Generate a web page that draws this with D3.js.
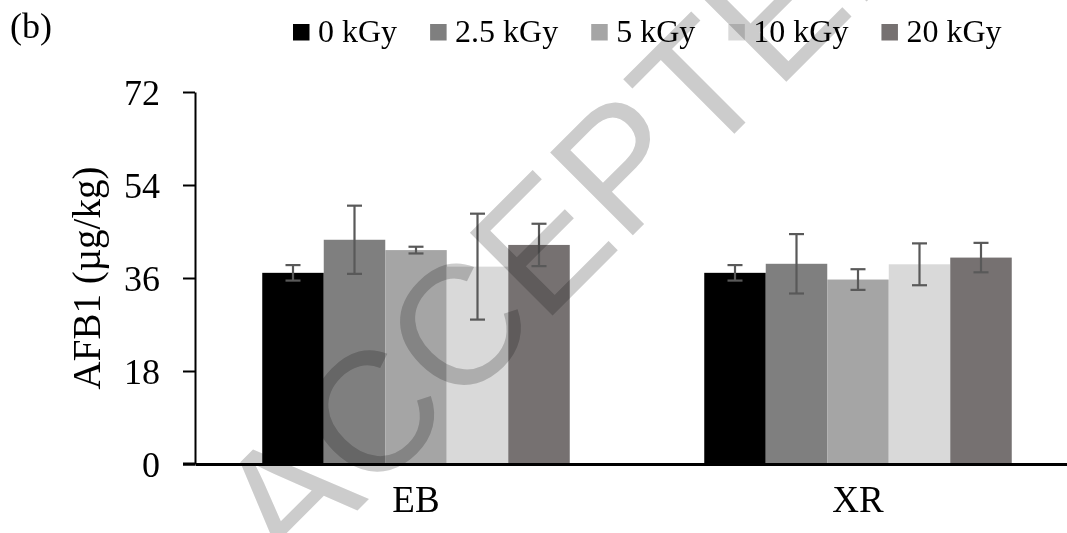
<!DOCTYPE html>
<html>
<head>
<meta charset="utf-8">
<script src="https://cdn.jsdelivr.net/npm/d3@7"></script>
<style>
  html, body { margin: 0; padding: 0; background: #ffffff; }
  svg { display: block; }
  text { fill: #000; }
</style>
</head>
<body>
<svg id="chart" width="1067" height="533"></svg>
<script>
// Aflatoxin B1 content by irradiation dose
const categories = ["EB", "XR"];
const doses = ["0 kGy", "2.5 kGy", "5 kGy", "10 kGy", "20 kGy"];
const meanEB = [37.0, 43.4, 41.4, 38.2, 42.4];
const errEB  = [1.5, 6.6, 0.65, 10.25, 4.1];
const meanXR = [37.0, 38.75, 35.7, 38.65, 39.95];
const errXR  = [1.5, 5.75, 2.0, 4.05, 2.85];
const yTicks = [0, 18, 36, 54, 72];
const doseColors = ["#000000", "#7f7f7f", "#a5a5a5", "#d9d9d9", "#767171"];

const means = { EB: meanEB, XR: meanXR };
const errs = { EB: errEB, XR: errXR };
const SERIF = "'Liberation Serif', 'Times New Roman', serif";

const svg = d3.select("#chart");
svg.append("rect").attr("width", 1067).attr("height", 533).attr("fill", "#fff");

const x0 = d3.scaleBand().domain(categories).range([195, 1079]).paddingInner(0).paddingOuter(0);
const x1 = d3.scaleBand().domain(doses).range([67.25, 374.75]).padding(0);
const y = d3.scaleLinear().domain([0, 72]).range([464, 92]);
const color = d3.scaleOrdinal().domain(doses).range(doseColors);

// bars
const groups = svg.append("g").selectAll("g")
  .data(categories).join("g")
  .attr("transform", c => `translate(${x0(c)},0)`);

groups.selectAll("rect")
  .data(c => doses.map((d, i) => ({ dose: d, v: means[c][i], e: errs[c][i] })))
  .join("rect")
  .attr("x", d => x1(d.dose))
  .attr("width", x1.bandwidth())
  .attr("y", d => y(d.v))
  .attr("height", d => y(0) - y(d.v))
  .attr("fill", d => color(d.dose));

// error bars
const eb = groups.selectAll("g.err")
  .data(c => doses.map((d, i) => ({ dose: d, v: means[c][i], e: errs[c][i] })))
  .join("g").attr("class", "err")
  .attr("stroke", "#595959").attr("stroke-width", 2.2);
const cx = d => x1(d.dose) + x1.bandwidth() / 2;
eb.append("line")
  .attr("x1", cx).attr("x2", cx)
  .attr("y1", d => y(d.v + d.e)).attr("y2", d => y(d.v - d.e));
eb.append("line")
  .attr("x1", d => cx(d) - 7.5).attr("x2", d => cx(d) + 7.5)
  .attr("y1", d => y(d.v + d.e)).attr("y2", d => y(d.v + d.e));
eb.append("line")
  .attr("x1", d => cx(d) - 7.5).attr("x2", d => cx(d) + 7.5)
  .attr("y1", d => y(d.v - d.e)).attr("y2", d => y(d.v - d.e));

// y axis
const yAxis = svg.append("g")
  .attr("transform", "translate(195,0)")
  .call(d3.axisLeft(y).tickValues(yTicks).tickSize(12).tickSizeOuter(0).tickPadding(23));
yAxis.select(".domain").attr("stroke", "#000").attr("stroke-width", 2);
yAxis.selectAll(".tick line").attr("stroke", "#000").attr("stroke-width", 2);
yAxis.selectAll(".tick text")
  .style("font-family", SERIF)
  .attr("font-size", 36)
  .attr("fill", "#000")
  .attr("dy", "0.34em");

// x axis
const xAxis = svg.append("g")
  .attr("transform", `translate(0,${y(0)})`)
  .call(d3.axisBottom(x0).tickSize(0).tickSizeOuter(0).tickPadding(48));
xAxis.select(".domain").attr("stroke", "#000").attr("stroke-width", 3);
xAxis.selectAll(".tick text")
  .style("font-family", SERIF)
  .attr("font-size", 37)
  .attr("fill", "#000")
  .attr("dy", 0);
svg.append("line")
  .attr("x1", 183).attr("x2", 195)
  .attr("y1", y(0)).attr("y2", y(0))
  .attr("stroke", "#000").attr("stroke-width", 3);

// y axis title
svg.append("text")
  .attr("transform", `translate(100,${(y(0) + y(72)) / 2}) rotate(-90)`)
  .attr("text-anchor", "middle")
  .style("font-family", SERIF)
  .attr("font-size", 39)
  .text("AFB1 (µg/kg)");

// panel label
svg.append("text")
  .attr("x", 10).attr("y", 38)
  .style("font-family", SERIF)
  .attr("font-size", 36)
  .text("(b)");

// legend
const legend = svg.append("g");
let lx = 293;
doses.forEach(d => {
  const item = legend.append("g");
  item.append("rect")
    .attr("x", lx).attr("y", 24)
    .attr("width", 16.5).attr("height", 16.5)
    .attr("fill", color(d));
  const t = item.append("text")
    .attr("x", lx + 25).attr("y", 42)
    .style("font-family", SERIF)
    .attr("font-size", 32)
    .text(d);
  lx += 25 + t.node().getComputedTextLength() + 33;
});

// diagonal overlay lettering
svg.append("text")
  .attr("transform", "translate(289,579) rotate(-45)")
  .style("font-family", "'Liberation Sans', Arial, sans-serif")
  .attr("font-size", 170)
  .style("fill", "#cccccc")
  .style("mix-blend-mode", "multiply")
  .text("ACCEPTED");
</script>
</body>
</html>
